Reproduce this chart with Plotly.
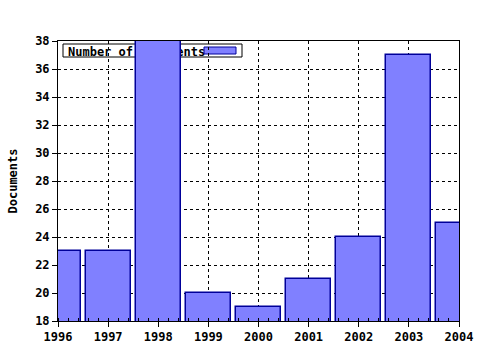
import plotly.graph_objects as go

years = [1996, 1997, 1998, 1999, 2000, 2001, 2002, 2003, 2004]
documents = [23, 23, 38, 20, 19, 21, 24, 37, 25]
series_name = "Number of documents"
y_title = "Documents"

FONT = dict(family="DejaVu Sans Mono", size=12, color="black", weight="bold")
FILL = "#8080FF"
EDGE = "#000099"

fig = go.Figure()
fig.add_trace(go.Bar(
    x=years, y=documents, width=0.9,
    marker=dict(color=FILL, line=dict(color=EDGE, width=1.5)),
    name=series_name, showlegend=False,
))

W, H = 480, 350
L, R, T, B = 58, 21, 41, 29

def px_x(p):
    return (p - L) / (W - L - R)

def px_y(p):
    return (H - B - p) / (H - T - B)

shapes = [
    dict(type="rect", xref="paper", yref="paper", layer="between",
         x0=px_x(63), x1=px_x(242), y0=px_y(57), y1=px_y(44),
         fillcolor="white", line=dict(color="black", width=1),
         label=dict(text=series_name, textposition="middle left",
                    font=FONT, padding=2)),
    dict(type="rect", xref="paper", yref="paper", layer="between",
         x0=px_x(204), x1=px_x(236), y0=px_y(54), y1=px_y(47),
         fillcolor=FILL, line=dict(color=EDGE, width=1)),
]

fig.update_layout(
    width=W, height=H,
    margin=dict(l=L, r=R, t=T, b=B, pad=0, autoexpand=False),
    paper_bgcolor="white", plot_bgcolor="white",
    font=FONT, bargap=0, showlegend=False,
    shapes=shapes,
)
fig.update_xaxes(
    range=[1996, 2004], tickvals=years, ticktext=[str(y) for y in years],
    showline=True, linecolor="black", linewidth=1, mirror=True,
    ticks="outside", ticklen=5, tickcolor="black",
    showgrid=True, gridcolor="black", griddash="dot", gridwidth=1,
    minor=dict(dtick=0.2, ticks="inside", ticklen=3, tickcolor="black", showgrid=False),
    tickfont=FONT, zeroline=False, automargin=False,
)
fig.update_yaxes(
    range=[18, 38], dtick=2, tick0=18,
    showline=True, linecolor="black", linewidth=1, mirror=True,
    ticks="outside", ticklen=5, tickcolor="black",
    showgrid=True, gridcolor="black", griddash="dot", gridwidth=1,
    tickfont=FONT, zeroline=False, automargin=False,
    title=dict(text=y_title, font=FONT, standoff=14),
)

fig.write_html("out.html")
